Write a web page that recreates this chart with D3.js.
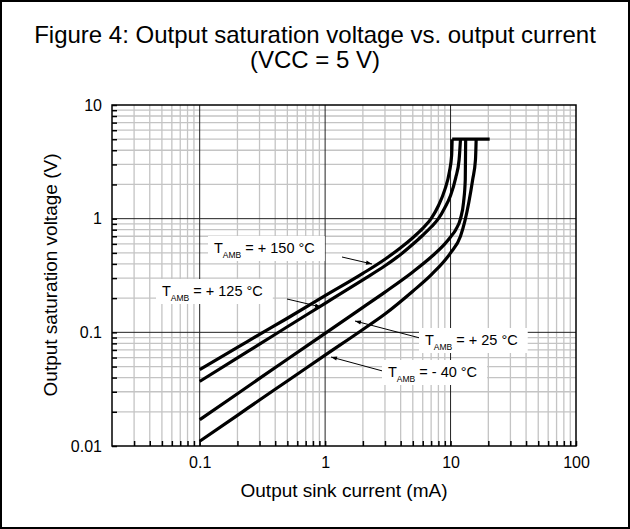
<!DOCTYPE html>
<html><head><meta charset="utf-8">
<script src="https://cdn.jsdelivr.net/npm/d3@7"></script>
<style>
body{margin:0;background:#fff}
svg{display:block}
text{font-family:"Liberation Sans", Arial, Helvetica, sans-serif;fill:#000}
</style>
</head><body>
<svg id="c" width="630" height="529"></svg>
<script>
// ---- data ----
const xTicks = [0.1, 1, 10, 100];
const xTickLabels = ["0.1", "1", "10", "100"];
const yTicks = [0.01, 0.1, 1, 10];
const yTickLabels = ["0.01", "0.1", "1", "10"];

const current150 = [0.1, 0.2, 0.3, 0.5, 1, 2, 3, 4, 5, 6, 7, 8, 9, 9.8, 10.2, 10.3];
const volt150    = [0.047, 0.0736, 0.096, 0.133, 0.21, 0.33, 0.44, 0.555, 0.68, 0.82, 1.0, 1.3, 1.8, 2.6, 3.6, 5];

const current125 = [0.1, 0.2, 0.3, 0.5, 1, 2, 3, 4, 5, 6, 7, 8, 9, 10, 11, 11.7, 12];
const volt125    = [0.037, 0.0596, 0.0787, 0.112, 0.18, 0.29, 0.385, 0.485, 0.595, 0.715, 0.845, 1.0, 1.25, 1.6, 2.3, 3.3, 5];

const current25 = [0.1, 0.2, 0.3, 0.5, 1, 2, 3, 5, 7, 9, 10, 11, 12, 12.7, 13.1, 13.2];
const volt25    = [0.017, 0.0288, 0.0393, 0.058, 0.098, 0.166, 0.226, 0.34, 0.46, 0.6, 0.69, 0.8, 1.0, 1.4, 2.2, 5];

const currentM40 = [0.1, 0.2, 0.3, 0.5, 1, 2, 3, 5, 7, 10, 12, 13, 14, 15, 15.8, 16];
const voltM40    = [0.011, 0.0186, 0.0254, 0.0373, 0.063, 0.106, 0.145, 0.23, 0.32, 0.5, 0.7, 0.95, 1.4, 2.2, 3.3, 5];

const satCurrent = [10.3, 20.5];
const satVolt = [5, 5];

const labelTemps = ["= + 150 °C", "= + 125 °C", "= + 25 °C", "= - 40 °C"];

// ---- layout ----
const svg = d3.select("#c");
const L = 112, R = 576, T = 105, B = 446;
const x = d3.scaleLog().domain([0.02, 100]).range([L, R]);
const y = d3.scaleLog().domain([0.01, 10]).range([B, T]);

// outer frame
svg.append("rect").attr("x", 1).attr("y", 1).attr("width", 628).attr("height", 527)
  .attr("fill", "none").attr("stroke", "#000").attr("stroke-width", 2);

// title
svg.append("text").attr("x", 315).attr("y", 43).attr("text-anchor", "middle")
  .style("font-size", "24px").text("Figure 4: Output saturation voltage vs. output current");
svg.append("text").attr("x", 315).attr("y", 68).attr("text-anchor", "middle")
  .style("font-size", "24px").text("(VCC = 5 V)");

// minor/major values
const minorX = [], minorY = [];
[0.01, 0.1, 1, 10].forEach(d => { for (let k = 2; k <= 9; k++) { const v = d * k; if (v > 0.02 && v < 100) minorX.push(v); } });
[0.01, 0.1, 1].forEach(d => { for (let k = 2; k <= 9; k++) minorY.push(d * k); });

const grid = svg.append("g");
grid.selectAll(".mx").data(minorX).join("line")
  .attr("x1", d => x(d)).attr("x2", d => x(d)).attr("y1", T).attr("y2", B)
  .attr("stroke", "#c4c4c4").attr("stroke-width", 1.3);
grid.selectAll(".my").data(minorY).join("line")
  .attr("y1", d => y(d)).attr("y2", d => y(d)).attr("x1", L).attr("x2", R)
  .attr("stroke", "#c4c4c4").attr("stroke-width", 1.3);
grid.selectAll(".Mx").data([0.1, 1, 10]).join("line")
  .attr("x1", d => x(d)).attr("x2", d => x(d)).attr("y1", T).attr("y2", B)
  .attr("stroke", "#222").attr("stroke-width", 1);
grid.selectAll(".My").data([0.1, 1]).join("line")
  .attr("y1", d => y(d)).attr("y2", d => y(d)).attr("x1", L).attr("x2", R)
  .attr("stroke", "#222").attr("stroke-width", 1);

// inward minor ticks via axes
svg.append("g").attr("transform", `translate(0,${B})`)
  .call(d3.axisBottom(x).tickValues(minorX.concat(xTicks)).tickSize(-5).tickFormat(""))
  .call(g => g.select(".domain").remove())
  .call(g => g.selectAll("line").attr("stroke", "#000").attr("stroke-width", 1.5));
svg.append("g").attr("transform", `translate(${L},0)`)
  .call(d3.axisLeft(y).tickValues(minorY.concat(yTicks)).tickSize(-5).tickFormat(""))
  .call(g => g.select(".domain").remove())
  .call(g => g.selectAll("line").attr("stroke", "#000").attr("stroke-width", 1.5));

// tick labels
svg.append("g").attr("transform", `translate(0,${B})`)
  .call(d3.axisBottom(x).tickValues(xTicks).tickSize(0).tickPadding(11).tickFormat((d, i) => xTickLabels[i]))
  .call(g => g.select(".domain").remove())
  .call(g => g.selectAll("text").style("font-size", "16px").style("font-family", '"Liberation Sans", Arial, sans-serif'));
svg.append("g").attr("transform", `translate(${L},0)`)
  .call(d3.axisLeft(y).tickValues(yTicks).tickSize(0).tickPadding(10).tickFormat((d, i) => yTickLabels[i]))
  .call(g => g.select(".domain").remove())
  .call(g => g.selectAll("text").style("font-size", "16px").style("font-family", '"Liberation Sans", Arial, sans-serif'));

// plot frame
svg.append("rect").attr("x", L).attr("y", T).attr("width", R - L).attr("height", B - T)
  .attr("fill", "none").attr("stroke", "#000").attr("stroke-width", 1.5);

// axis titles
svg.append("text").attr("x", 344).attr("y", 497).attr("text-anchor", "middle")
  .style("font-size", "19px").text("Output sink current (mA)");
svg.append("text").attr("transform", "translate(57,275) rotate(-90)").attr("text-anchor", "middle")
  .style("font-size", "19px").text("Output saturation voltage (V)");

// curves
const line = d3.line().x(d => x(d[0])).y(d => y(d[1])).curve(d3.curveMonotoneX);
const series = [
  [current150, volt150], [current125, volt125], [current25, volt25], [currentM40, voltM40], [satCurrent, satVolt]
];
series.forEach(([cs, vs]) => {
  svg.append("path").datum(cs.map((c, i) => [c, vs[i]])).attr("d", line)
    .attr("fill", "none").attr("stroke", "#000").attr("stroke-width", 3.2).attr("stroke-linejoin", "round");
});

// arrowhead marker
svg.append("defs").append("marker").attr("id", "ah").attr("viewBox", "0 0 10 10")
  .attr("refX", 10).attr("refY", 5).attr("markerWidth", 10).attr("markerHeight", 6)
  .attr("orient", "auto").attr("markerUnits", "userSpaceOnUse")
  .append("path").attr("d", "M0,1.5 L10,5 L0,8.5 Z").attr("fill", "#000");

// labels
const labelPos = [
  {tx: 214, ty: 253, a: [342, 257, 372, 264]},
  {tx: 162, ty: 296, a: [287, 299, 321, 307]},
  {tx: 425, ty: 345, a: [420, 338, 355, 321]},
  {tx: 388, ty: 377, a: [390, 373, 331, 357]}
];
labelPos.forEach((p, i) => {
  svg.append("line").attr("x1", p.a[0]).attr("y1", p.a[1]).attr("x2", p.a[2]).attr("y2", p.a[3])
    .attr("stroke", "#000").attr("stroke-width", 1).attr("marker-end", "url(#ah)");
  const g = svg.append("g");
  const r = g.append("rect").attr("fill", "#fff");
  const t = g.append("text").attr("x", p.tx).attr("y", p.ty).style("font-size", "14.5px");
  t.append("tspan").text("T");
  t.append("tspan").attr("dy", 5).style("font-size", "8.5px").text("AMB");
  t.append("tspan").attr("dy", -5).text(" " + labelTemps[i]);
  const bb = t.node().getBBox();
  r.attr("x", p.tx - 6).attr("y", p.ty - 17).attr("width", bb.width + 16).attr("height", 25);
});
</script>
</body></html>
